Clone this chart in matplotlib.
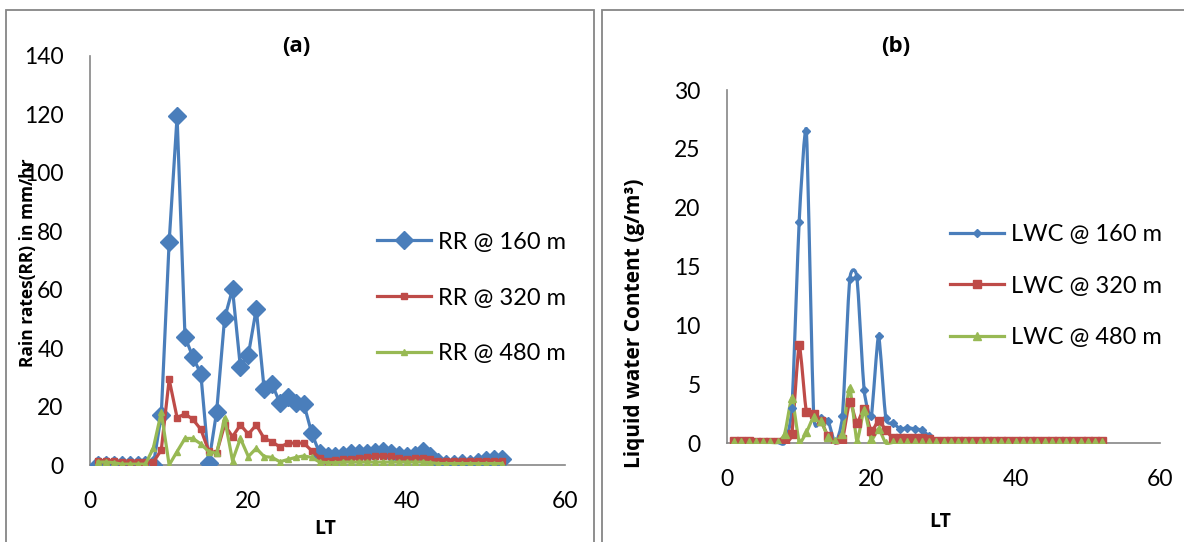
import numpy as np
import matplotlib
matplotlib.use("Agg")
import matplotlib.pyplot as plt
from matplotlib.path import Path
from matplotlib.patches import PathPatch, Rectangle
from matplotlib.lines import Line2D

plt.rcParams['font.family'] = ['Lato', 'DejaVu Sans']
BOLD_FAMILY = ['Open Sans', 'DejaVu Sans']

# Local time (hours) shared by every series
lt = list(range(1, 53))

# Rain rate (mm/hr) at three heights
rr_160 = [0, 0, 0, 0, 0, 0, 0, 0,
          17, 76.5, 119.3, 43.9, 36.9, 31.2, 0.7, 18.3, 50.2, 60.2, 33.4, 37.7,
          53.4, 25.9, 27.7, 21.1, 23.4, 21.1, 21, 11,
          4, 3, 3, 3.5, 4, 4, 4.2, 4.5, 4.8, 4, 3.5, 3, 3.5, 4.8, 3,
          1, 0.5, 0.5, 0.8, 0.5, 1, 1.8, 2.2, 2.2]
rr_320 = [1.5, 1.5, 1.5, 1, 1, 1, 1, 1,
          5.1, 29.3, 16.2, 17.5, 15.6, 12.2, 4.8, 4.2, 13.7, 9.7, 13.7, 10.6,
          13.7, 9.1, 8, 6.1, 7.5, 7.5, 7.5, 4.9,
          2.5, 1.5, 1.8, 2, 2.2, 2.5, 2.8, 3, 3.2, 3, 2.5, 2, 2.5, 2.5, 2,
          1.5, 1.5, 1.5, 1.5, 1.5, 1.5, 1.5, 1.5, 1.5]
rr_480 = [1, 1, 0.8, 0.3, 0.3, 0.3, 0.3, 5.8,
          18, 0, 4.6, 9.1, 9.1, 7.2, 4.6, 4, 16, 1.5, 9.1, 2.9,
          5.7, 2.9, 2.6, 1.1, 1.9, 2.6, 3.1, 2.6,
          1, 0.8, 0.8, 1, 1, 1, 1, 1, 1, 1, 1, 1, 1, 1, 0.8,
          0.5, 0.5, 0.5, 0.5, 0.5, 0.5, 0.5, 0.5, 0.5]

# Liquid water content (g/m^3) at three heights
lwc_160 = [0.1, 0.1, 0.1, 0.1, 0.05, 0.05, 0.05, 0,
           3, 18.8, 26.5, 2.5, 2.1, 1.9, 0, 2.3, 13.9, 14.1, 4.5, 2.3,
           9.1, 2.1, 1.7, 1.2, 1.3, 1.2, 1.1, 0.6,
           0.2, 0.2, 0.2, 0.2, 0.2, 0.2, 0.2, 0.2, 0.2, 0.2, 0.2, 0.2,
           0.15, 0.15, 0.15, 0.15, 0.15, 0.15, 0.15, 0.15, 0.15, 0.15, 0.15, 0.15]
lwc_320 = [0.15, 0.15, 0.15, 0.1, 0.1, 0.1, 0.1, 0.1,
           0.8, 8.3, 2.6, 2.5, 1.9, 0.6, 0, 0.3, 3.5, 1.7, 2.9, 1.0,
           1.9, 1.1, 0.4, 0.4, 0.4, 0.4, 0.4, 0.3,
           0.2, 0.2, 0.2, 0.2, 0.2, 0.2, 0.2, 0.2, 0.2, 0.2, 0.2, 0.2,
           0.2, 0.2, 0.2, 0.2, 0.2, 0.2, 0.2, 0.2, 0.2, 0.2, 0.2, 0.2]
lwc_480 = [0.1, 0.1, 0.05, 0.05, 0.05, 0.05, 0.05, 0.8,
           3.8, 0.1, 0.9, 2.2, 1.9, 0.5, 0.2, 0.8, 4.7, 0.2, 2.8, 0.3,
           1.2, 0, 0.05, 0.05, 0.05, 0.05, 0.05, 0.05,
           0.05, 0.05, 0.05, 0.05, 0.05, 0.05, 0.05, 0.05, 0.05, 0.05, 0.05, 0.05,
           0.05, 0.05, 0.05, 0.05, 0.05, 0.05, 0.05, 0.05, 0.05, 0.05, 0.05, 0.05]

rr_labels = ['RR @ 160 m', 'RR @ 320 m', 'RR @ 480 m']
lwc_labels = ['LWC @ 160 m', 'LWC @ 320 m', 'LWC @ 480 m']

BLUE, RED, GREEN = '#4A7EBB', '#BE4B48', '#98B954'
AXIS_GRAY = '#868686'
TICK_FS = 16.5
LEG_FS = 17


def smooth_path(x, y, k=0.09):
    """Cubic Bezier path through the points (spline-style smoothing)."""
    p = np.column_stack([x, y]).astype(float)
    n = len(p)
    verts = [p[0]]
    codes = [Path.MOVETO]
    for i in range(n - 1):
        p0 = p[i - 1] if i > 0 else p[i]
        p1, p2 = p[i], p[i + 1]
        p3 = p[i + 2] if i + 2 < n else p[i + 1]
        c1 = p1 + (p2 - p0) * k
        c2 = p2 - (p3 - p1) * k
        verts += [c1, c2, p2]
        codes += [Path.CURVE4] * 3
    return Path(verts, codes)


def style_axes(ax, ymax, ystep):
    ax.set_xlim(0, 60)
    ax.set_ylim(0, ymax)
    ax.set_xticks(range(0, 61, 20))
    ax.set_yticks(np.arange(0, ymax + 0.1, ystep))
    for side in ('top', 'right'):
        ax.spines[side].set_visible(False)
    for side in ('left', 'bottom'):
        ax.spines[side].set_color(AXIS_GRAY)
        ax.spines[side].set_linewidth(1.2)
    ax.tick_params(length=0, labelsize=TICK_FS, pad=19)
    ax.patch.set_alpha(0)


fig = plt.figure(figsize=(11.84, 5.42), dpi=100)

# Panel frames
fig.patches.append(Rectangle((6 / 1184, -0.1), (594 - 6) / 1184, 1.1 - 10 / 542,
                             transform=fig.transFigure, fill=False,
                             edgecolor=AXIS_GRAY, linewidth=1.3, zorder=0))
fig.patches.append(Rectangle((602 / 1184, -0.1), 0.5, 1.1 - 10 / 542,
                             transform=fig.transFigure, fill=False,
                             edgecolor=AXIS_GRAY, linewidth=1.3, zorder=0))

# ---- (a) rain rate ----
ax1 = fig.add_axes([90 / 1184, 1 - 465 / 542, 475 / 1184, 409 / 542])
style_axes(ax1, 140, 20)
ax1.plot(lt, rr_160, color=BLUE, lw=2.3, marker='D', ms=9.5, zorder=3)
ax1.plot(lt, rr_320, color=RED, lw=2.3, marker='s', ms=5, zorder=4)
ax1.plot(lt, rr_480, color=GREEN, lw=2.3, marker='^', ms=5, zorder=5)
ax1.set_ylabel('Rain rates(RR) in mm/hr', fontsize=12.5, fontweight='bold',
               family=BOLD_FAMILY)
ax1.yaxis.set_label_coords(-0.112, 0.494)
ax1.set_xlabel('LT', fontsize=14, fontweight='bold', family=BOLD_FAMILY)
ax1.xaxis.set_label_coords(0.495, -0.132)
h1 = [Line2D([], [], color=BLUE, lw=2.3, marker='D', ms=9.5),
      Line2D([], [], color=RED, lw=2.3, marker='s', ms=5),
      Line2D([], [], color=GREEN, lw=2.3, marker='^', ms=5)]
fig.legend(h1, rr_labels, loc='center left', bbox_to_anchor=(377 / 1184, 1 - 298 / 542),
           frameon=False, fontsize=LEG_FS, handlelength=2.3, handletextpad=0.3,
           labelspacing=1.48, borderpad=0, borderaxespad=0)
fig.text(296 / 1184, 1 - 46 / 542, '(a)', ha='center', va='center',
         fontsize=16, fontweight='bold', family=BOLD_FAMILY)

# ---- (b) liquid water content ----
ax2 = fig.add_axes([727 / 1184, 1 - 443 / 542, 433 / 1184, 353 / 542])
style_axes(ax2, 30, 5)
for vals, col, mk, ms in ((lwc_160, BLUE, 'D', 4),
                          (lwc_320, RED, 's', 6),
                          (lwc_480, GREEN, '^', 5.5)):
    ax2.add_patch(PathPatch(smooth_path(lt, vals), fill=False, edgecolor=col,
                            lw=2.3, zorder=3, clip_on=False))
    ax2.plot(lt, vals, linestyle='none', color=col, marker=mk, ms=ms, zorder=4)
ax2.set_ylabel('Liquid water Content (g/m³)', fontsize=15, fontweight='bold',
               family=BOLD_FAMILY)
ax2.yaxis.set_label_coords(-0.19, 0.34)
ax2.set_xlabel('LT', fontsize=14, fontweight='bold', family=BOLD_FAMILY)
ax2.xaxis.set_label_coords(0.492, -0.195)
h2 = [Line2D([], [], color=BLUE, lw=2.3, marker='D', ms=4),
      Line2D([], [], color=RED, lw=2.3, marker='s', ms=6),
      Line2D([], [], color=GREEN, lw=2.3, marker='^', ms=5.5)]
fig.legend(h2, lwc_labels, loc='center left', bbox_to_anchor=(950 / 1184, 1 - 286 / 542),
           frameon=False, fontsize=LEG_FS, handlelength=2.3, handletextpad=0.3,
           labelspacing=1.3, borderpad=0, borderaxespad=0)
fig.text(896 / 1184, 1 - 46 / 542, '(b)', ha='center', va='center',
         fontsize=16, fontweight='bold', family=BOLD_FAMILY)

fig.savefig('out.png', dpi=100)
